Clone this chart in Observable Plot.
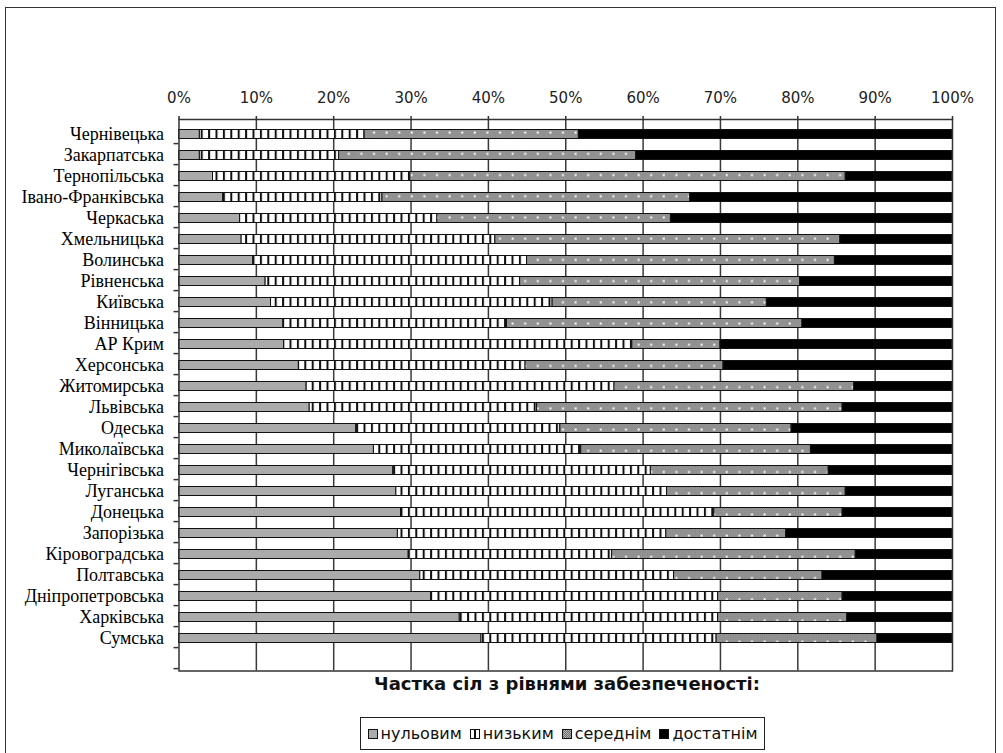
<!DOCTYPE html>
<html><head><meta charset="utf-8">
<script src="https://cdn.jsdelivr.net/npm/d3@7"></script>
<script src="https://cdn.jsdelivr.net/npm/@observablehq/plot@0.6"></script>
<style>
body{margin:0;background:#fff;width:1003px;height:753px;overflow:hidden;position:relative;font-family:"DejaVu Sans",sans-serif}
#border{position:absolute;left:5px;top:7px;width:991px;height:800px;border:1.5px solid #333;pointer-events:none;box-sizing:border-box}
#chart{position:absolute;left:0;top:0}
#title{position:absolute;left:217px;width:700px;top:673px;text-align:center;font-family:"DejaVu Sans",sans-serif;font-weight:bold;font-size:18px;color:#111}
#legend{position:absolute;left:360px;top:717px;width:405px;height:33px;border:1px solid #222;box-sizing:border-box;display:flex;align-items:center;justify-content:center;gap:8px;font-family:"DejaVu Sans",sans-serif;font-size:16px;color:#111}
#legend .it{display:flex;align-items:center;gap:3px}
#legend svg{display:block}
</style></head>
<body>
<div id="chart"></div>
<div id="title">Частка сіл з рівнями забезпеченості:</div>
<div id="legend"></div>
<div id="border"></div>
<script>
const regions = ["Чернівецька","Закарпатська","Тернопільська","Івано-Франківська","Черкаська","Хмельницька","Волинська","Рівненська","Київська","Вінницька","АР Крим","Херсонська","Житомирська","Львівська","Одеська","Миколаївська","Чернігівська","Луганська","Донецька","Запорізька","Кіровоградська","Полтавська","Дніпропетровська","Харківська","Сумська"];
const levels = ["нульовим","низьким","середнім","достатнім"];
const zero = [2.7, 2.7, 4.4, 5.7, 7.9, 8.1, 9.6, 11.2, 11.9, 13.5, 13.6, 15.5, 16.5, 16.9, 22.9, 25.2, 27.7, 28.1, 28.7, 28.3, 29.7, 31.2, 32.6, 36.3, 39.1];
const low = [21.3, 18.0, 25.5, 20.6, 25.5, 32.8, 35.4, 32.9, 36.4, 28.9, 45.0, 29.3, 39.8, 29.4, 26.4, 26.8, 33.3, 35.0, 40.5, 34.7, 26.3, 32.8, 37.1, 33.4, 30.4];
const mid = [27.7, 38.4, 56.3, 39.8, 30.2, 44.6, 39.8, 36.2, 27.7, 38.2, 11.4, 25.6, 31.0, 39.5, 29.9, 29.7, 23.0, 23.1, 16.6, 15.5, 31.5, 19.2, 16.1, 16.7, 20.8];
const high = [48.3, 40.9, 13.8, 33.9, 36.4, 14.5, 15.2, 19.7, 24.0, 19.4, 30.0, 29.6, 12.7, 14.2, 20.8, 18.3, 16.0, 13.8, 14.2, 21.5, 12.5, 16.8, 14.2, 13.6, 9.7];
const xTicks = [0,10,20,30,40,50,60,70,80,90,100];
const fills = ["#ababab","url(#pLow)","url(#pMid)","#000000"];

const W=1003, H=672, mT=119, mB=1.5, mL=178.5, mR=51;
const yDomain = [...regions, " "];
const step = (H-mT-mB)/yDomain.length;
const shift = 1.5;
const series = [zero, low, mid, high];
const data = regions.flatMap((r,i)=>series.map((arr,k)=>({region:r, level:levels[k], value:arr[i]})));

const chart = Plot.plot({
  width:W, height:H, marginTop:mT, marginBottom:mB, marginLeft:mL, marginRight:mR,
  style:{background:"transparent", overflow:"visible"},
  x:{domain:[0,100], axis:null},
  y:{domain:yDomain, paddingInner:0.56, paddingOuter:0.28, axis:null},
  color:{domain:levels, range:fills},
  marks:[
    Plot.ruleX(xTicks.slice(1,-1), {stroke:"#3a3a3a", strokeWidth:1.5}),
    Plot.barX(data, Plot.stackX({x:"value", y:"region", fill:"level", order:levels, stroke:"#111", strokeWidth:1, dy:shift})),
    Plot.frame({stroke:"#333", strokeWidth:1.5}),
    Plot.axisX(xTicks, {anchor:"top", label:null, tickSize:4, tickPadding:13, tickFormat:d=>d+"%", fontSize:15, fontFamily:"DejaVu Sans", fill:"#222", stroke:"#333", strokeWidth:1.5}),
    Plot.axisY({anchor:"left", label:null, tickSize:0, tickPadding:15, fontSize:18, fontFamily:"Liberation Serif", fill:"#000", dy:shift}),
    Plot.axisY({anchor:"left", label:null, tickSize:5, fill:"none", dy:step/2, stroke:"#333", strokeWidth:1.5})
  ]
});
document.getElementById("chart").appendChild(chart);

const dotY = step/2 + shift - 1;
const defsMarkup = `
<pattern id="pLow" patternUnits="userSpaceOnUse" x="${mL}" width="7.4" height="10"><rect width="7.4" height="10" fill="#fff"/><rect x="0" width="2" height="10" fill="#111"/></pattern>
<pattern id="pChk" patternUnits="userSpaceOnUse" width="2" height="2"><rect width="2" height="2" fill="#b4b4b4"/><rect width="1" height="1" fill="#6e6e6e"/><rect x="1" y="1" width="1" height="1" fill="#6e6e6e"/></pattern>
<pattern id="pMid" patternUnits="userSpaceOnUse" x="${mL}" y="${mT}" width="12.6" height="${step}"><rect width="12.6" height="${step}" fill="url(#pChk)"/><rect x="5.5" y="${dotY}" width="2" height="2" fill="#fff"/></pattern>
<pattern id="pChkL" patternUnits="userSpaceOnUse" width="2" height="2"><rect width="2" height="2" fill="#b4b4b4"/><rect width="1" height="1" fill="#6e6e6e"/><rect x="1" y="1" width="1" height="1" fill="#6e6e6e"/></pattern>`;
const defs = document.createElementNS("http://www.w3.org/2000/svg","defs");
defs.innerHTML = defsMarkup;
chart.insertBefore(defs, chart.firstChild);

const swatchFill = {"нульовим":"#ababab","низьким":"#fff","середнім":"url(#pChkL)","достатнім":"#000"};
const legend = document.getElementById("legend");
levels.forEach(l=>{
  const it = document.createElement("div"); it.className="it";
  let inner = `<rect x="0.5" y="0.5" width="9" height="9" fill="${swatchFill[l]}" stroke="#111" stroke-width="1"/>`;
  if (l==="низьким") inner += `<rect x="4" y="0.5" width="2" height="9" fill="#111"/>`;
  it.innerHTML = `<svg width="10" height="10" viewBox="0 0 10 10">${inner}</svg><span>${l}</span>`;
  legend.appendChild(it);
});
</script>
</body></html>
